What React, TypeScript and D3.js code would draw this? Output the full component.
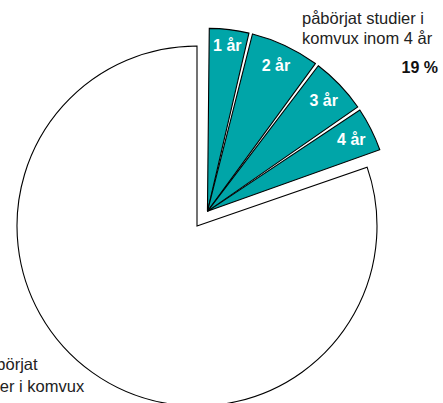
import React from "react";
import * as d3 from "d3";

const categories = ["1 år", "2 år", "3 år", "4 år", "ej påbörjat"];
const values = [3.8, 6.4, 5.3, 4.2, 80.3];
const highlighted = [true, true, true, true, false];
const totalLabelLines = ["påbörjat studier i", "komvux inom 4 år"];
const totalValue = "19 %";
const restLabelLines = ["påbörjat", "studier i komvux"];

export default function App() {
  const W = 443;
  const H = 403;
  const cx = 197;
  const cy = 226;
  const R = 180;
  const Rhi = 183;
  const explode = 18;

  const pie = d3.pie<number>().sort(null).value((d) => d);
  const arcs = pie(values);
  const arcGen = d3.arc<d3.PieArcDatum<number>>().innerRadius(0).outerRadius(R);
  const arcHi = d3.arc<d3.PieArcDatum<number>>().innerRadius(0).outerRadius(Rhi);

  const hiArcs = arcs.filter((_, i) => highlighted[i]);
  const hiStart = d3.min(hiArcs, (a) => a.startAngle) ?? 0;
  const hiEnd = d3.max(hiArcs, (a) => a.endAngle) ?? 0;
  const mid = (hiStart + hiEnd) / 2;
  const ox = Math.sin(mid) * explode;
  const oy = -Math.cos(mid) * explode;

  const font = "'Liberation Sans', Arial, sans-serif";

  return (
    <svg
      width={W}
      height={H}
      style={{ position: "absolute", left: 0, top: 0, background: "#fff" }}
    >
      <g transform={`translate(${cx},${cy})`}>
        {arcs.map((a, i) =>
          highlighted[i] ? null : (
            <path key={i} d={arcGen(a) || ""} fill="#fff" stroke="#000" strokeWidth={1.1} />
          )
        )}
      </g>
      <g transform={`translate(${cx + ox},${cy + oy})`}>
        {arcs.map((a, i) => {
          if (!highlighted[i]) return null;
          const padded = { ...a, padAngle: 0.02 };
          const m = (a.startAngle + a.endAngle) / 2;
          const lr = a.endAngle - a.startAngle < 0.25 ? 167 : 161;
          return (
            <g key={i}>
              <path d={arcHi(padded) || ""} fill="#00A5A8" stroke="#000" strokeWidth={1.1} />
              <text
                x={Math.sin(m) * lr}
                y={-Math.cos(m) * lr}
                textAnchor="middle"
                dominantBaseline="central"
                fill="#fff"
                fontFamily={font}
                fontWeight="bold"
                fontSize={16}
              >
                {categories[i]}
              </text>
            </g>
          );
        })}
      </g>
      <text fontFamily={font} fontSize={16.5} fill="#222">
        {totalLabelLines.map((l, i) => (
          <tspan key={i} x={302} y={24 + i * 20}>
            {l}
          </tspan>
        ))}
      </text>
      <text x={438} y={73} textAnchor="end" fontFamily={font} fontSize={16} fontWeight="bold" fill="#111">
        {totalValue}
      </text>
      <text fontFamily={font} fontSize={16.5} fill="#222">
        <tspan x={-22} y={370}>{restLabelLines[0]}</tspan>
        <tspan x={-35} y={392}>{restLabelLines[1]}</tspan>
      </text>
    </svg>
  );
}
